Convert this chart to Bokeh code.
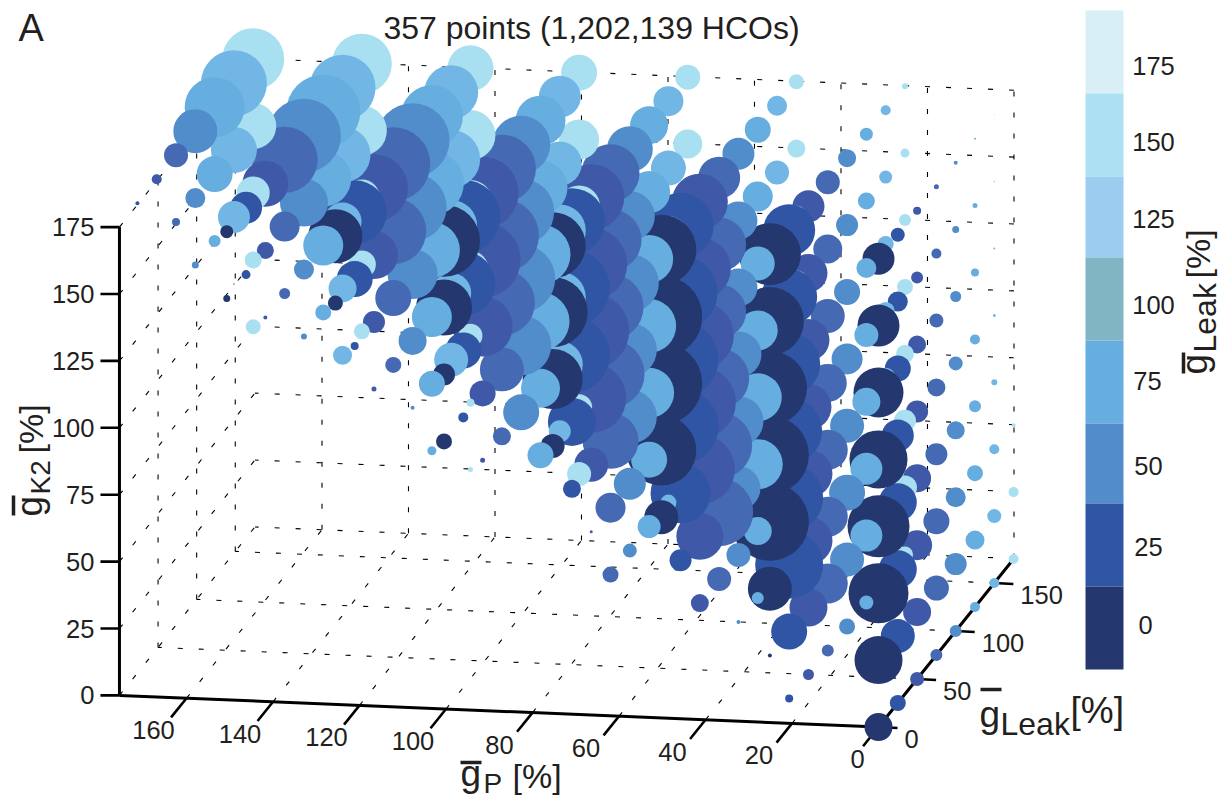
import math
from bokeh.plotting import figure
from bokeh.models import ColumnDataSource, Range1d
from bokeh.core.properties import value
from bokeh.embed import file_html
from bokeh.resources import INLINE

# axis grids
G_P = [0, 25, 50, 75, 100, 125, 150, 175]
G_LEAK = [0, 25, 50, 75, 100, 125, 150, 175]
G_K2 = [0, 25, 50, 75, 100, 125, 150, 175]
P_TICKS = [0, 20, 40, 60, 80, 100, 120, 140, 160]
LEAK_TICKS = [0, 50, 100, 150]
K2_TICKS = [0, 25, 50, 75, 100, 125, 150, 175]
CBAR_LABELS = ["175", "150", "125", "100", "75", "50", "25", "0"]
AXIS_MAX = 175.5

# bubble magnitude: one row per gLeak value, one entry per gK2 value (0 = no models)
mag_p0 = [
    [14, 24, 30, 31, 29, 25, 21, 16],
    [8, 17, 19, 19, 16, 13, 10, 7],
    [7, 14, 15, 14, 11, 9, 6, 4],
    [6, 12.5, 13, 11, 9, 7, 5, 2.5],
    [6, 11, 10, 9, 7, 5.5, 3.5, 2],
    [5, 9.5, 8, 6, 5, 4, 2.5, 1],
    [5, 7, 5, 3, 1.5, 1, 0.7, 0.4],
    [5, 5, 2, 0.8, 0.3, 0, 0, 0],
]
mag_p25 = [
    [0, 2, 22, 39, 39, 37, 34, 31],
    [4, 18, 34, 34, 33, 31, 28, 26],
    [5.5, 19, 24, 24, 23, 21, 19, 16],
    [6, 20, 20, 20, 19, 17, 14.5, 12],
    [8, 17, 18, 17, 15.5, 13, 11, 9],
    [7, 16, 16, 14, 12, 10, 8.5, 6.5],
    [7, 10, 11, 10, 9, 8, 6.5, 5],
    [8, 12, 11, 9, 8, 6, 4.5, 3],
]
mag_p50 = [
    [0, 0, 0, 17, 35, 41, 41, 35],
    [0, 0, 11, 30, 38, 38, 37, 33],
    [0, 9, 23.5, 35, 36, 34, 31, 28],
    [0, 12, 34, 33, 30, 27, 27, 21],
    [2, 12, 22, 25, 23, 19, 19, 16],
    [6, 14, 25, 24, 20, 17, 15, 13],
    [0, 9, 17, 17, 15, 14, 12, 10],
    [0, 8, 13, 13, 12, 10, 9, 7.5],
]
mag_p75 = [
    [0, 0, 0, 0, 12, 30, 35, 33],
    [0, 0, 0, 9, 24, 38, 38, 33],
    [0, 0, 1.5, 17, 35, 38, 36, 33],
    [0, 8, 15, 28, 34, 33, 31, 29],
    [0, 7, 16, 27, 27, 29, 25, 23],
    [0, 11.5, 18, 25, 27, 24, 21, 19],
    [0, 8, 16, 20, 22, 19, 17.5, 15],
    [0, 6, 11, 17, 18, 16, 14.5, 12.5],
]
mag_p100 = [
    [0, 0, 0, 0, 8, 11, 28, 36],
    [0, 0, 0, 0, 5, 18, 32, 37],
    [0, 0, 0, 2.5, 13, 30, 38, 36],
    [0, 0, 0, 9, 22, 33, 37, 34],
    [0, 0, 0, 18, 30, 34, 33, 29],
    [0, 0, 13, 19.5, 29, 30, 27, 25],
    [0, 0, 11, 23, 26, 26, 22, 21],
    [0, 12, 13, 15, 18, 21, 20, 18],
]
mag_p125 = [
    [0, 0, 0, 0, 0, 0, 7.5, 27],
    [0, 0, 0, 0, 0, 4, 18, 32],
    [0, 0, 0, 0, 2.5, 11, 24, 34],
    [0, 0, 0, 0, 8, 18, 33, 37],
    [0, 0, 0, 2, 14, 25, 34, 37],
    [0, 0, 4.5, 13, 20, 28, 32, 31],
    [0, 0, 0, 17, 20, 26, 29, 27],
    [0, 2.5, 4, 12, 18, 22, 25, 23],
]
mag_p150 = [
    [0, 0, 0, 0, 0, 0, 3.5, 6.5],
    [0, 0, 0, 0, 0, 0, 4.5, 16],
    [0, 0, 0, 0, 0, 2, 8.5, 23],
    [0, 0, 0, 0, 0, 5.5, 15, 33],
    [0, 0, 0, 0, 3, 10, 24, 37],
    [0, 0, 0, 0, 8, 20, 28, 37],
    [0, 0, 0, 9.5, 14, 19, 28, 33],
    [0, 0, 0, 8, 14, 18, 25, 30],
]
mag_p175 = [
    [0, 0, 0, 0, 0, 0, 0, 0],
    [0, 0, 0, 0, 0, 0, 0, 2],
    [0, 0, 0, 0, 0, 0, 0, 5],
    [0, 0, 0, 0, 0, 0, 4, 12],
    [0, 0, 0, 0, 0, 3.5, 10, 22],
    [0, 0, 0, 0, 0, 6, 18, 30],
    [0, 0, 0, 0, 1, 16, 23, 33],
    [0, 0, 0, 7.5, 8.5, 16.5, 23, 31],
]
MAGS = [mag_p0, mag_p25, mag_p50, mag_p75, mag_p100, mag_p125, mag_p150, mag_p175]

LEAK_COLORS = ["#24376F", "#2F55A4", "#3F59A8", "#4569B2", "#518CCB", "#66AEE0", "#72B6E5", "#A9E0F1"]
CBAR_COLORS = ["#D8F0F5", "#ACE0F3", "#9BCDF0", "#80B6C3", "#66AEE0", "#528CCA", "#2F55A4", "#24376F"]
CBAR_EDGES = [10, 93, 176, 257, 340, 423, 503, 586, 669]
CBAR_LABEL_Y = [65, 141, 218, 304, 380, 465, 546, 624]
CBAR_LABEL_X = [1153, 1153, 1153, 1153, 1147, 1148, 1148, 1145]
INK = "#231F20"
FONT = value("Liberation Sans")


def proj(gp, leak, k2, sx=4.325):
    """Orthographic projection of the 3-D axes to page pixels."""
    return (878 - gp * sx + leak * 0.772,
            726.5 - gp * 0.18 - leak * 0.96 - k2 * 2.676)


p = figure(width=1226, height=801, x_range=Range1d(0, 1226), y_range=Range1d(801, 0),
           x_axis_type=None, y_axis_type=None, toolbar_location=None,
           output_backend="svg", min_border=0, outline_line_color=None,
           background_fill_color="white")


def seg(pairs, **kw):
    x0 = [proj(*a)[0] for a, b in pairs]
    y0 = [proj(*a)[1] for a, b in pairs]
    x1 = [proj(*b)[0] for a, b in pairs]
    y1 = [proj(*b)[1] for a, b in pairs]
    p.segment(x0, y0, x1, y1, **kw)


def txt(x, y, s, size, align="left", base="alphabetic", angle=0.0):
    # the page's alphabetic baseline sits about 0.37 em below the requested point
    if base == "alphabetic":
        if angle:
            x -= 0.37 * size
        else:
            y -= 0.37 * size
    p.text([x], [y], text=[s], text_font=FONT, text_font_size=f"{size}px",
           text_color=INK, text_align=align, text_baseline=base, angle=angle)


M = AXIS_MAX
grid = []
for k in K2_TICKS:
    grid.append(((0, M, k), (M, M, k)))        # back wall horizontals
    grid.append(((M, 0, k), (M, M, k)))        # left wall obliques
for g in P_TICKS:
    grid.append(((g, M, 0), (g, M, 175)))      # back wall verticals
    if g > 0:
        grid.append(((g, 0, 0), (g, M, 0)))    # floor, along leak
for l in LEAK_TICKS[1:]:
    grid.append(((M, l, 0), (M, l, 175)))      # left wall verticals
    grid.append(((0, l, 0), (M, l, 0)))        # floor, along gP
seg(grid, line_color="#000000", line_width=1.1, line_dash="5 16")

# main axes
seg([((M, 0, 0), (M, 0, 175)), ((M, 0, 0), (0, 0, 0)), ((0, 0, 0), (0, M, 0))],
    line_color="black", line_width=3)

# ticks
kx = []
for k in K2_TICKS:
    x, y = proj(M, 0, k)
    kx.append((x, y))
p.segment([a - 19 for a, b in kx], [b for a, b in kx], [a for a, b in kx], [b for a, b in kx],
          line_color="black", line_width=2.6)
seg([((g, 0, 0), (g, -20, 0)) for g in P_TICKS], line_color="black", line_width=2.6)
lx = [proj(0, l, 0) for l in LEAK_TICKS]
p.segment([a for a, b in lx], [b for a, b in lx], [a + 19 for a, b in lx], [b + 1 for a, b in lx],
          line_color="black", line_width=2.6)

# bubbles, painted from right to left on the page
rows = []
for j, gp in enumerate(G_P):
    for i, leak in enumerate(G_LEAK):
        for k, k2 in enumerate(G_K2):
            m = MAGS[j][i][k]
            if m > 0:
                x, y = proj(gp, leak, k2, sx=4.345)
                rows.append((x, k, y, 2 * m, LEAK_COLORS[i]))
rows.sort(key=lambda r: (-round(r[0], 3), r[1]))
src = ColumnDataSource(dict(x=[r[0] for r in rows], y=[r[2] for r in rows],
                            s=[r[3] for r in rows], c=[r[4] for r in rows]))
p.scatter("x", "y", size="s", fill_color="c", line_color=None, source=src)

# tick labels
for k, (x, y) in zip(K2_TICKS, kx):
    txt(x - 25, y, str(k), 25.5, "right", "middle")
for g in P_TICKS:
    x, y = proj(g, 0, 0)
    txt(x - (33 if g else 21), y + 32, str(g), 25.5, "center", "middle")
for l, (x, y) in zip(LEAK_TICKS, lx):
    txt(x + 26, y + 12, str(l), 25.5, "left", "middle")

# colour bar
p.quad(left=[1085] * 8, right=[1123] * 8, top=CBAR_EDGES[:-1], bottom=CBAR_EDGES[1:],
       fill_color=CBAR_COLORS, line_color=None)
for s, x, y in zip(CBAR_LABELS, CBAR_LABEL_X, CBAR_LABEL_Y):
    txt(x, y, s, 25.5, "center", "middle")

# titles and axis names
txt(591, 27, "357 points (1,202,139 HCOs)", 32, "center", "middle")
txt(18, 42, "A", 38)

# gP label
txt(460, 787, "g", 37)
txt(483, 793, "P", 28)
txt(512, 788, "[%]", 34)
# gLeak label below
txt(979, 728, "g", 37)
txt(1000, 735, "Leak", 32)
txt(1070, 724, "[%]", 37)
# gK2 label, rotated
R = math.pi / 2
txt(43, 516, "g", 37, angle=R)
txt(50, 494, "K2", 28, angle=R)
txt(43, 453, "[%]", 34, angle=R)
# colour-bar label, rotated
txt(1208, 374, "g", 37, angle=R)
txt(1216, 352, "Leak", 32, angle=R)
txt(1210, 278, "[%]", 34, angle=R)
# overbars of the g glyphs
p.segment([460, 980, 13, 1183], [762, 689, 515, 373], [481, 1001, 13, 1183], [762, 689, 495, 352],
          line_color=INK, line_width=3.5)

open("out.html", "w").write(file_html(p, INLINE))
